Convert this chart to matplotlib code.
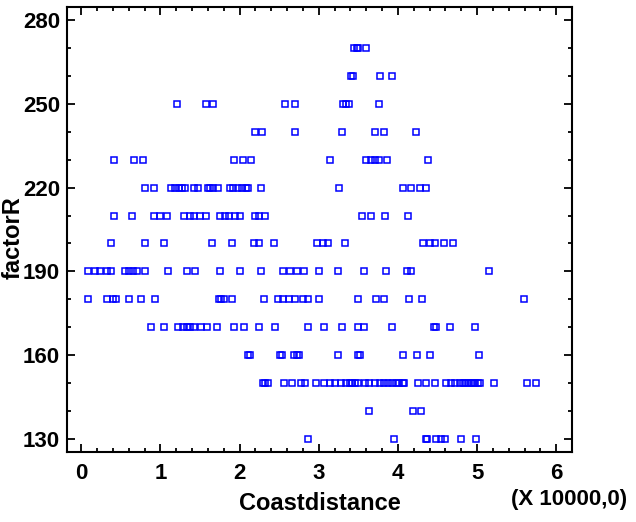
import matplotlib.pyplot as plt
from matplotlib.ticker import MultipleLocator

plt.rcParams['font.family'] = ['Liberation Sans', 'DejaVu Sans']

# Coastdistance (x 10000) values for each factorR level
rows = {
    270: [3.44, 3.48, 3.50, 3.60],
    260: [3.41, 3.43, 3.78, 3.93],
    250: [1.21, 1.57, 1.67, 2.57, 2.70, 3.31, 3.35, 3.38, 3.76],
    240: [2.20, 2.28, 2.70, 3.29, 3.71, 3.82, 4.23],
    230: [0.42, 0.67, 0.78, 1.93, 2.04, 2.15, 3.14, 3.60, 3.66, 3.71, 3.76, 3.86, 4.38],
    220: [0.80, 0.92, 1.14, 1.19, 1.24, 1.27, 1.31, 1.42, 1.47, 1.60, 1.63, 1.67,
          1.73, 1.88, 1.92, 1.98, 2.03, 2.08, 2.11, 2.27, 3.26, 4.06, 4.17, 4.28, 4.35],
    210: [0.41, 0.64, 0.92, 1.00, 1.08, 1.30, 1.37, 1.43, 1.50, 1.57, 1.75, 1.81,
          1.87, 1.94, 2.00, 2.20, 2.25, 2.32, 3.55, 3.66, 3.84, 4.13],
    200: [0.38, 0.81, 1.05, 1.65, 1.90, 2.18, 2.25, 2.43, 2.98, 3.05, 3.12, 3.33,
          4.32, 4.40, 4.47, 4.58, 4.70],
    190: [0.08, 0.17, 0.24, 0.32, 0.38, 0.55, 0.60, 0.65, 0.70, 0.81, 1.09, 1.34,
          1.44, 1.75, 2.01, 2.27, 2.55, 2.64, 2.73, 2.82, 3.00, 3.24, 3.57, 3.85,
          4.12, 4.17, 5.15],
    180: [0.08, 0.33, 0.40, 0.44, 0.60, 0.76, 0.93, 1.74, 1.77, 1.80, 1.90, 2.31,
          2.48, 2.55, 2.62, 2.70, 2.80, 2.86, 3.01, 3.50, 3.73, 3.83, 4.14, 4.30, 5.59],
    170: [0.88, 1.05, 1.22, 1.28, 1.33, 1.37, 1.43, 1.51, 1.59, 1.71, 1.93, 2.06,
          2.25, 2.45, 2.86, 3.07, 3.29, 3.50, 3.57, 3.92, 4.46, 4.48, 4.66, 4.97],
    160: [2.11, 2.13, 2.51, 2.54, 2.69, 2.72, 2.75, 3.24, 3.50, 3.52, 4.06, 4.24,
          4.41, 5.03],
    150: [2.30, 2.32, 2.36, 2.56, 2.66, 2.78, 2.83, 2.96, 3.07, 3.14, 3.20, 3.28,
          3.35, 3.39, 3.42, 3.46, 3.50, 3.58, 3.64, 3.71, 3.77, 3.83, 3.88, 3.92,
          3.98, 4.02, 4.06, 4.08, 4.26, 4.35, 4.47, 4.61, 4.67, 4.72, 4.78, 4.82,
          4.85, 4.88, 4.92, 4.95, 4.98, 5.01, 5.04, 5.21, 5.63, 5.75],
    140: [3.63, 4.19, 4.29],
    130: [2.86, 3.95, 4.35, 4.37, 4.48, 4.55, 4.60, 4.80, 4.99],
}

xs = []
ys = []
for level, dists in rows.items():
    for d in dists:
        xs.append(d)
        ys.append(level)

fig = plt.figure(figsize=(6.36, 5.22), dpi=100)
ax = fig.add_axes([0.1053, 0.1341, 0.7941, 0.8525])

ax.plot(xs, ys, linestyle='none', marker='s', markersize=5,
        markerfacecolor='none', markeredgecolor='#0000ff', markeredgewidth=1.1)

ax.set_xlim(-0.18, 6.2)
ax.set_ylim(125.3, 284.7)
ax.xaxis.set_major_locator(MultipleLocator(1))
ax.xaxis.set_minor_locator(MultipleLocator(0.2))
ax.set_yticks(range(130, 281, 30))
ax.set_yticks(range(130, 281, 10), minor=True)

ax.tick_params(which='both', direction='in', top=True, right=True, width=1.3,
               labelsize=16)
ax.tick_params(which='major', length=6)
ax.tick_params(which='minor', length=3)
ax.tick_params(axis='x', pad=8)
ax.tick_params(axis='y', pad=5)
for lab in ax.get_xticklabels() + ax.get_yticklabels():
    lab.set_fontweight('bold')
for sp in ax.spines.values():
    sp.set_linewidth(1.5)

fig.text(319.5 / 636, 1 - 503 / 522, 'Coastdistance', fontsize=17,
         fontweight='bold', ha='center', va='center')
fig.text(13 / 636, 1 - 238 / 522, 'factorR', fontsize=17, fontweight='bold',
         rotation=90, ha='center', va='center')
fig.text(627 / 636, 1 - 499 / 522, '(X 10000,0)', fontsize=16,
         fontweight='bold', ha='right', va='center')

fig.savefig('out.png', dpi=100)
